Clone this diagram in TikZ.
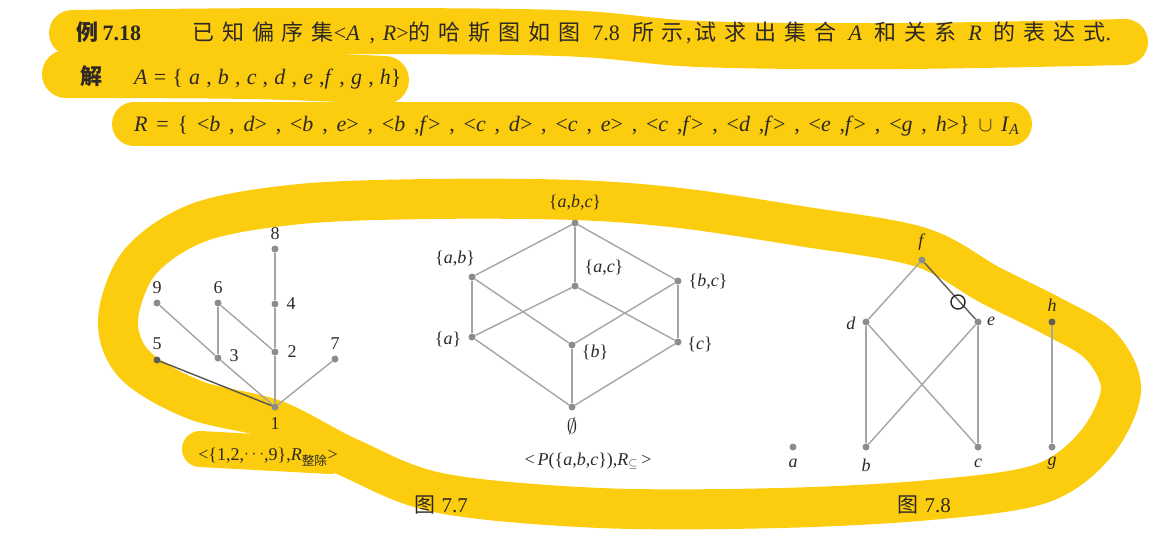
\documentclass[tikz,border=0pt]{standalone}
\usepackage{fontspec}
\usepackage{amssymb}
\setmainfont{Liberation Serif}
\newfontfamily\cjk{Noto Sans CJK SC}
\newfontfamily\cjkwide{Noto Sans CJK SC}[LetterSpace=36]
\definecolor{hl}{RGB}{252,205,14}
\definecolor{ink}{RGB}{45,40,35}
\definecolor{edgegray}{RGB}{165,165,165}
\definecolor{dotgray}{RGB}{140,140,140}
\newcommand\mi[1]{\textit{#1}}
\newcommand\sep{\hspace{0.4em}}
\newcommand\sepb{\hspace{0.28em}}
\newcommand\gap{\hspace{0.55em}}
\tikzset{
  hlstroke/.style={draw=hl, line cap=round, line join=round},
  dot/.style={circle, fill=dotgray, inner sep=0pt, minimum size=7pt},
  edge/.style={draw=edgegray, line width=1.4pt},
  lab/.style={inner sep=0pt, text=ink, font=\fontsize{18}{20}\selectfont},
  figcap/.style={inner sep=0pt, text=ink, font=\fontsize{21}{24}\selectfont},
  txt/.style={inner sep=0pt, text=ink, anchor=base west, font=\fontsize{22}{26}\selectfont},
}
\begin{document}
\begin{tikzpicture}[x=1pt,y=-1pt]
\useasboundingbox[fill=white] (0,0) rectangle (1152,542);

% ---------- highlighter strokes (under the print) ----------
\draw[hlstroke, line width=46pt] plot[smooth, tension=0.6] coordinates {(72,33) (300,31) (560,33) (700,44) (900,46) (1125,42)};
\draw[hlstroke, line width=48pt] plot[smooth, tension=0.6] coordinates {(66,74) (250,75) (385,80)};
\draw[hlstroke, line width=44pt] (134,124) -- (1010,124);
\draw[hlstroke, line width=40pt] plot[smooth cycle, tension=0.55] coordinates {
 (275,420) (350,458) (440,493) (600,508) (780,508) (930,500) (1040,484) (1095,445)
 (1121,390) (1100,345) (1050,315) (990,285) (920,247) (800,226) (680,208) (575,200)
 (430,199) (300,204) (200,222) (140,262) (118,320) (135,365) (195,400)};
\draw[hlstroke, line width=36pt] (200,449) -- (330,456);

% ---------- text lines ----------
\node[txt] (t1a) at (76,40) {{\cjk\bfseries 例}\hspace{0.2em}\textbf{7.18}};
\node[txt] (t1b) at (192,40) {{\cjkwide 已知偏序集}<\mi{A}\hspace{0.45em},\hspace{0.35em}\mi{R}>{\cjkwide 的哈斯图如图}\gap 7.8\gap{\cjkwide 所示}\hspace{0.1em},\hspace{0.15em}{\cjkwide 试求出集合}\gap\mi{A}\gap{\cjkwide 和关系}\gap\mi{R}\gap{\cjkwide 的表达式}.};
\node[txt] (t2a) at (80,84) {{\cjk\bfseries 解}};
\node[txt] (t2b) at (134,84) {\mi{A}\sepb=\sepb\{\sepb\mi{a}\sepb,\sepb\mi{b}\sepb,\sepb\mi{c}\sepb,\sepb\mi{d}\sepb,\sepb\mi{e}\sepb,\mi{f}\sepb,\sepb\mi{g}\sepb,\sepb\mi{h}\}};
\node[txt] (t3) at (134,131) {\mi{R}\sep=\sep\{\sep<\mi{b}\sep,\sep\mi{d}>\sep,\sep<\mi{b}\sep,\sep\mi{e}>\sep,\sep<\mi{b}\sep,\mi{f}>\sep,\sep<\mi{c}\sep,\sep\mi{d}>\sep,\sep<\mi{c}\sep,\sep\mi{e}>\sep,\sep<\mi{c}\sep,\mi{f}>\sep,\sep<\mi{d}\sep,\mi{f}>\sep,\sep<\mi{e}\sep,\mi{f}>\sep,\sep<\mi{g}\sep,\sep\mi{h}>\}\sep$\cup$\sep\mi{I}\textsubscript{\mi{A}}};

% ---------- divisibility diagram ----------
\node[dot] (n8) at (275,249) {};
\node[dot] (n4) at (275,304) {};
\node[dot] (n2) at (275,352) {};
\node[dot] (n1) at (275,407) {};
\node[dot] (n9) at (157,303) {};
\node[dot] (n6) at (218,303) {};
\node[dot] (n3) at (218,358) {};
\node[dot, fill=ink!75] (n5) at (157,360) {};
\node[dot] (n7) at (335,359) {};
\node[lab] (l8) at (275,234) {8};
\node[lab] (l4) at (291,304) {4};
\node[lab] (l2) at (292,352) {2};
\node[lab] (l1) at (275,424) {1};
\node[lab] (l9) at (157,288) {9};
\node[lab] (l6) at (218,288) {6};
\node[lab] (l3) at (234,356) {3};
\node[lab] (l5) at (157,344) {5};
\node[lab] (l7) at (335,344) {7};
\draw[edge] (n8) -- (n4);
\draw[edge] (n4) -- (n2);
\draw[edge] (n2) -- (n1);
\draw[edge] (n9) -- (n3);
\draw[edge] (n6) -- (n3);
\draw[edge] (n6) -- (n2);
\draw[edge] (n3) -- (n1);
\draw[edge, draw=ink!80] (n5) -- (n1);
\draw[edge] (n7) -- (n1);
\node[lab] (cap1) at (268,457) {<\{1,2,\raisebox{0.25ex}{$\cdots$},9\},\mi{R}\textsubscript{\cjk 整除}>};

% ---------- power set diagram ----------
\node[dot] (abc) at (575,223) {};
\node[dot] (ab) at (472,277) {};
\node[dot] (ac) at (575,286) {};
\node[dot] (bc) at (678,281) {};
\node[dot] (a1) at (472,337) {};
\node[dot] (b1) at (572,345) {};
\node[dot] (c1) at (678,342) {};
\node[dot] (em) at (572,407) {};
\node[lab] (labc) at (575,203) {\{\mi{a},\mi{b},\mi{c}\}};
\node[lab] (lab) at (455,259) {\{\mi{a},\mi{b}\}};
\node[lab] (lac) at (604,268) {\{\mi{a},\mi{c}\}};
\node[lab] (lbc) at (708,282) {\{\mi{b},\mi{c}\}};
\node[lab] (la1) at (448,339) {\{\mi{a}\}};
\node[lab] (lb1) at (595,352) {\{\mi{b}\}};
\node[lab] (lc1) at (700,344) {\{\mi{c}\}};
\node[lab, font=\fontsize{22}{26}\selectfont] (lem) at (572,426) {$\emptyset$};
\draw[edge] (abc) -- (ab);
\draw[edge] (abc) -- (ac);
\draw[edge] (abc) -- (bc);
\draw[edge] (ab) -- (a1);
\draw[edge] (ab) -- (b1);
\draw[edge] (ac) -- (a1);
\draw[edge] (ac) -- (c1);
\draw[edge] (bc) -- (b1);
\draw[edge] (bc) -- (c1);
\draw[edge] (a1) -- (em);
\draw[edge] (b1) -- (em);
\draw[edge] (c1) -- (em);
\node[lab] (cap2) at (588,461) {<\,\mi{P}(\{\mi{a},\mi{b},\mi{c}\}),\mi{R}\textsubscript{$\subseteq$}\,>};
\node[figcap] (fig77) at (441,505) {{\cjk 图}\hspace{0.3em}7.7};

% ---------- figure 7.8 ----------
\node[dot] (f) at (922,260) {};
\node[dot] (d) at (866,322) {};
\node[dot] (e) at (978,322) {};
\node[dot, fill=ink!75] (h) at (1052,322) {};
\node[dot] (a) at (793,447) {};
\node[dot] (b) at (866,447) {};
\node[dot] (c) at (978,447) {};
\node[dot] (g) at (1052,447) {};
\node[lab] (lf) at (922,242) {\mi{f}};
\node[lab] (ld) at (851,323) {\mi{d}};
\node[lab] (le) at (991,321) {\mi{e}};
\node[lab] (lh) at (1052,305) {\mi{h}};
\node[lab] (la) at (793,463) {\mi{a}};
\node[lab] (lb) at (866,465) {\mi{b}};
\node[lab] (lc) at (978,463) {\mi{c}};
\node[lab] (lg) at (1052,463) {\mi{g}};
\draw[edge] (f) -- (d);
\draw[edge, draw=ink!75] (f) -- (e);
\draw[edge] (d) -- (b);
\draw[edge] (d) -- (c);
\draw[edge] (e) -- (b);
\draw[edge] (e) -- (c);
\draw[edge] (h) -- (g);
\node[circle, draw=ink, line width=1.4pt, minimum size=14pt, inner sep=0pt] (mark) at (958,302) {};
\node[figcap] (fig78) at (924,505) {{\cjk 图}\hspace{0.3em}7.8};
\end{tikzpicture}
\end{document}
